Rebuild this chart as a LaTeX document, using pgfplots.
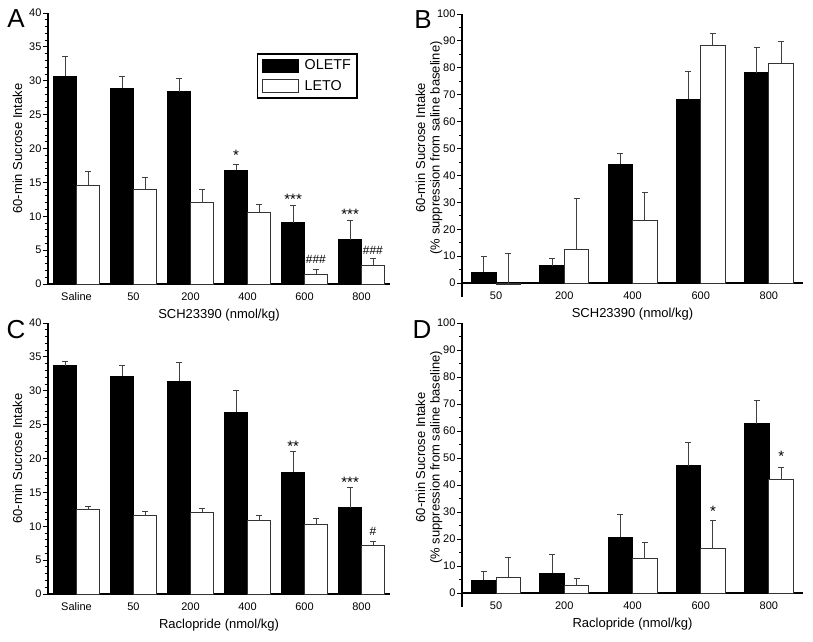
\documentclass[border=0pt]{standalone}
\usepackage{pgfplots}
\pgfplotsset{compat=1.18}
\usepackage{fontspec}
\setmainfont{Liberation Sans}
\begin{document}
\begin{tikzpicture}
\useasboundingbox (0,0) rectangle (813pt,641pt);
\pgfplotsset{
  panel/.style={
    scale only axis,
    axis y line*=left,
    axis line style={line width=1.1pt, black},
    ybar=0pt,
    xtick style={draw=none},
    tick align=outside,
    ytick style={black, line width=0.9pt},
    major tick length=5pt, minor tick length=3.5pt,
    ticklabel style={font=\fontsize{11}{12}\selectfont},
    yticklabel style={xshift=2pt},
    /pgf/number format/assume math mode=true,
    label style={font=\fontsize{13}{14.5}\selectfont},
    error bars/y dir=plus, error bars/y explicit,
    error bars/error bar style={black!75, line width=1pt},
    error bars/error mark options={rotate=90, black!75, line width=1pt, mark size=3pt},
  },
  sixgrp/.style={panel, axis x line*=bottom, width=342pt, height=271pt, bar width=23pt,
    xmin=-0.5, xmax=5.5, ymin=0, ymax=40, xtick={0,...,5},
    xticklabels={Saline,50,200,400,600,800},
    ytick={0,5,...,40}, minor y tick num=4,
    xlabel style={at={(axis description cs:0.5,0)}, anchor=center, yshift=-31pt},
    ylabel style={at={(axis description cs:0,0.5)}, anchor=center, yshift=30.5pt},
    ylabel={60-min Sucrose Intake}},
  fivegrp/.style={panel, axis x line*=middle, bar width=24.5pt,
    xmin=-0.5, xmax=4.5, ymin=-5, ymax=100, xtick={0,...,4},
    xticklabels={50,200,400,600,800},
    ytick={0,10,...,100}, minor y tick num=1,
    xlabel style={at={(axis description cs:0.5,0)}, anchor=center, yshift=-18pt},
    ylabel style={at={(axis description cs:0,0.526)}, anchor=center, yshift=33pt, align=center},
    ylabel={60-min Sucrose Intake\\(\% suppression from saline baseline)}},
  oletf/.style={fill=black, draw=black, line width=0.8pt},
  leto/.style={fill=white, draw=black!80, line width=1pt},
}
\tikzset{sig/.style={font=\fontsize{15}{15}\selectfont, inner sep=0pt},
         hsig/.style={font=\fontsize{12}{12}\selectfont, inner sep=0pt}}

% Panel A
\begin{axis}[sixgrp, at={(48pt,357pt)}, anchor=south west,
  xlabel={SCH23390 (nmol/kg)},
  legend image code/.code={\draw[#1] (0pt,-6.5pt) rectangle (36pt,6.5pt);},
  legend style={at={(0.611,0.852)}, anchor=north west, draw=black, line width=1.5pt,
    font=\fontsize{14.3}{16}\selectfont, inner xsep=4pt, inner ysep=4pt, row sep=5pt,
    /tikz/every odd column/.append style={column sep=4pt}},
  legend cell align=left]
\addplot[oletf] coordinates {(0,30.7) +- (0,2.9) (1,28.9) +- (0,1.7) (2,28.4) +- (0,1.95) (3,16.8) +- (0,0.9) (4,9.05) +- (0,2.55) (5,6.55) +- (0,2.75)};
\addplot[leto] coordinates {(0,14.55) +- (0,2.05) (1,14.0) +- (0,1.7) (2,12.0) +- (0,1.9) (3,10.6) +- (0,1.1) (4,1.4) +- (0,0.8) (5,2.75) +- (0,1.0)};
\legend{OLETF,LETO}
\node[sig] at (axis cs:2.8,19.0) {*};
\node[sig] at (axis cs:3.8,12.5) {***};
\node[sig] at (axis cs:4.8,10.3) {***};
\node[hsig] at (axis cs:4.2,3.6) {\#\#\#};
\node[hsig] at (axis cs:5.2,4.9) {\#\#\#};
\end{axis}

% Panel B
\begin{axis}[fivegrp, at={(462pt,344.5pt)}, anchor=south west, width=341pt, height=282.5pt,
  xlabel={SCH23390 (nmol/kg)}]
\addplot[oletf] coordinates {(0,4.0) +- (0,5.9) (1,6.4) +- (0,2.8) (2,44.1) +- (0,4.0) (3,68.4) +- (0,10.2) (4,78.2) +- (0,9.3)};
\addplot[leto] coordinates {(0,-0.7) +- (0,11.5) (1,12.5) +- (0,18.8) (2,23.3) +- (0,10.3) (3,88.4) +- (0,4.5) (4,81.7) +- (0,7.9)};
\end{axis}

% Panel C
\begin{axis}[sixgrp, at={(48pt,47pt)}, anchor=south west,
  xlabel={Raclopride (nmol/kg)}]
\addplot[oletf] coordinates {(0,33.7) +- (0,0.6) (1,32.15) +- (0,1.65) (2,31.4) +- (0,2.7) (3,26.8) +- (0,3.2) (4,18.0) +- (0,3.1) (5,12.75) +- (0,2.95)};
\addplot[leto] coordinates {(0,12.45) +- (0,0.45) (1,11.6) +- (0,0.6) (2,12.1) +- (0,0.5) (3,10.8) +- (0,0.8) (4,10.2) +- (0,1.0) (5,7.2) +- (0,0.5)};
\node[sig] at (axis cs:3.8,21.8) {**};
\node[sig] at (axis cs:4.8,16.5) {***};
\node[hsig] at (axis cs:5.2,9.2) {\#};
\end{axis}

% Panel D
\begin{axis}[fivegrp, at={(462pt,34.5pt)}, anchor=south west, width=341pt, height=283.5pt,
  xlabel={Raclopride (nmol/kg)}]
\addplot[oletf] coordinates {(0,4.8) +- (0,3.35) (1,7.4) +- (0,6.8) (2,20.7) +- (0,8.4) (3,47.2) +- (0,8.6) (4,62.7) +- (0,8.7)};
\addplot[leto] coordinates {(0,5.8) +- (0,7.3) (1,2.7) +- (0,2.6) (2,12.7) +- (0,5.9) (3,16.4) +- (0,10.5) (4,41.9) +- (0,4.6)};
\node[sig] at (axis cs:3.18,30.3) {*};
\node[sig] at (axis cs:4.18,50.7) {*};
\end{axis}

% Panel letters
\node[font=\fontsize{26}{26}\selectfont] at (16pt,622pt) {A};
\node[font=\fontsize{26}{26}\selectfont] at (423pt,621pt) {B};
\node[font=\fontsize{26}{26}\selectfont] at (16pt,311pt) {C};
\node[font=\fontsize{26}{26}\selectfont] at (422pt,311pt) {D};
\end{tikzpicture}
\end{document}
